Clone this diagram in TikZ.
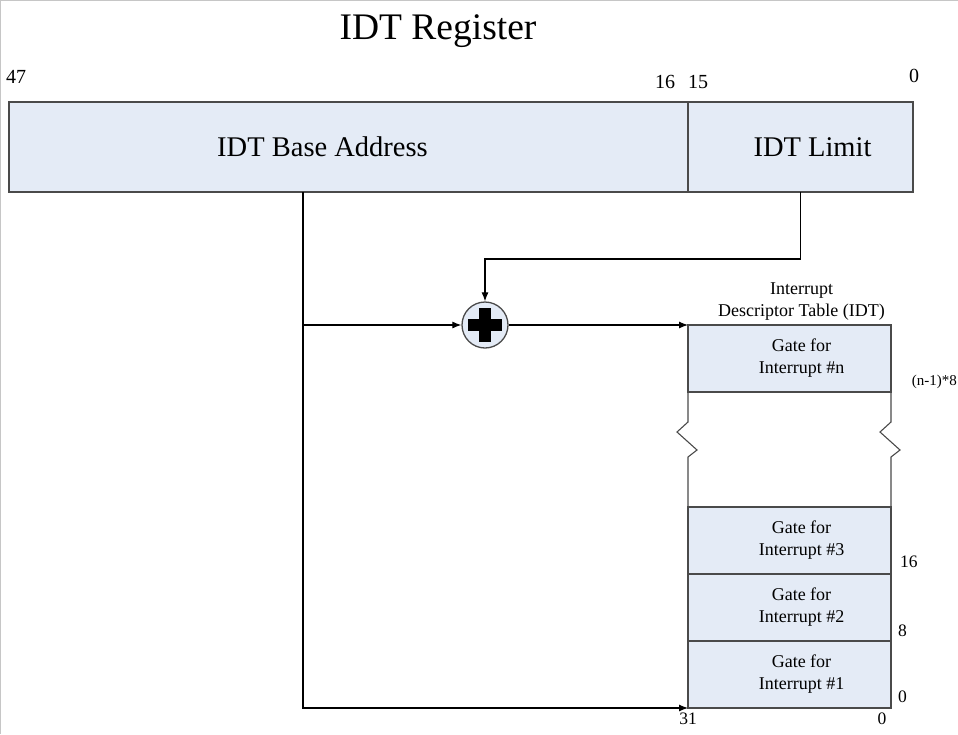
\documentclass[tikz,border=0pt]{standalone}
\usepackage{fontspec}
\setmainfont{Liberation Serif}
\usepackage{tikz}
\usetikzlibrary{calc,positioning,arrows.meta}
\definecolor{boxfill}{HTML}{E4EBF6}
\definecolor{boxline}{HTML}{4A4A4A}

\begin{document}
\begin{tikzpicture}[x=1pt,y=-1pt,
		regbox/.style={draw=boxline,fill=boxfill,line width=1.3pt,inner sep=0pt,outer sep=0pt,minimum height=90pt},
		gatebox/.style={draw=boxline,fill=boxfill,line width=1.3pt,inner sep=0pt,outer sep=0pt,minimum width=203pt,minimum height=67pt},
		regtxt/.style={font=\fontsize{28.5}{30}\selectfont},
		gatetxt/.style={align=center,font=\fontsize{18}{22}\selectfont},
		bitlbl/.style={font=\fontsize{20}{22}\selectfont,inner sep=0pt},
		offlbl/.style={font=\fontsize{17.5}{20}\selectfont,inner sep=0pt},
		conn/.style={line width=1.1pt},
		tip/.style={-{Latex[length=9pt,width=7pt]}}]
		\useasboundingbox (0,0) rectangle (958,734);
		\draw[gray!45,line width=1pt] (0.5,734) -- (0.5,0.5) -- (958,0.5);
		\begin{scope}
			% IDT register
			\node(title) at (438,31) [font=\fontsize{37.5}{40}\selectfont] {IDT Register};
			\node(base) [regbox,minimum width=679pt,label={[regtxt,xshift=-26pt]center:IDT Base Address}] at (348.5,147) {};
			\node(limit) [regbox,minimum width=225pt,label={[regtxt,xshift=12pt]center:IDT Limit}] at (800.5,147) {};
			\node(b47) [bitlbl] at (16,77) {47};
			\node(b16) [bitlbl] at (665,82) {16};
			\node(b15) [bitlbl] at (698,82) {15};
			\node(b0) [bitlbl] at (914,76) {0};

			% adder
			\node(sum) [shape=circle,draw=boxline,fill=boxfill,line width=1.3pt,minimum size=46pt,inner sep=0pt] at (485,325) {};
			\fill (sum.center) +(-17,-6) rectangle +(17,6);
			\fill (sum.center) +(-6,-17) rectangle +(6,17);

			% descriptor table
			\node(gn) [gatebox,label={[gatetxt,xshift=12pt]center:Gate for\\Interrupt \#n}] at (789.5,358.5) {};
			\node(g3) [gatebox,label={[gatetxt,xshift=12pt]center:Gate for\\Interrupt \#3}] at (789.5,540.5) {};
			\node(g2) [gatebox,below=0 of g3,label={[gatetxt,xshift=12pt]center:Gate for\\Interrupt \#2}] {};
			\node(g1) [gatebox,below=0 of g2,label={[gatetxt,xshift=12pt]center:Gate for\\Interrupt \#1}] {};
			\node(idt) [gatetxt,above=1pt of gn,xshift=12pt] {Interrupt\\Descriptor Table (IDT)};
			\foreach \s/\e in {gn.south west/g3.north west, gn.south east/g3.north east}
				\draw[boxline,line width=1.1pt] (\s) -- ++(0,30) -- ++(-11,10) -- ++(20,18) -- ++(-9,7) -- (\e);

			\node(offn) [offlbl,anchor=east,font=\fontsize{15}{18}\selectfont] at ($(gn.south east)+(66,-10)$) {(n-1)*8};
			\node(off3) [offlbl,anchor=west] at ($(g3.south east)+(9,-12)$) {16};
			\node(off2) [offlbl,anchor=west] at ($(g2.south east)+(7,-10)$) {8};
			\node(off1) [offlbl,anchor=west] at ($(g1.south east)+(7,-11)$) {0};
			\node(w31) [offlbl,anchor=north] at ($(g1.south west)+(0,5)$) {31};
			\node(w0) [offlbl,anchor=north] at ($(g1.south east)+(-9,5)$) {0};

			% connectors
			\coordinate(tap) at ([xshift=294pt]base.south west);
			\draw[conn,tip] (tap) |- (g1.south west);
			\draw[conn,tip] (tap |- sum) -- (sum.west);
			\draw[conn,tip] (limit.south) -- ++(0,67) -| (sum.north);
			\draw[conn,tip] (sum.east) -- (gn.north west);
		\end{scope}
	\end{tikzpicture}
\end{document}
